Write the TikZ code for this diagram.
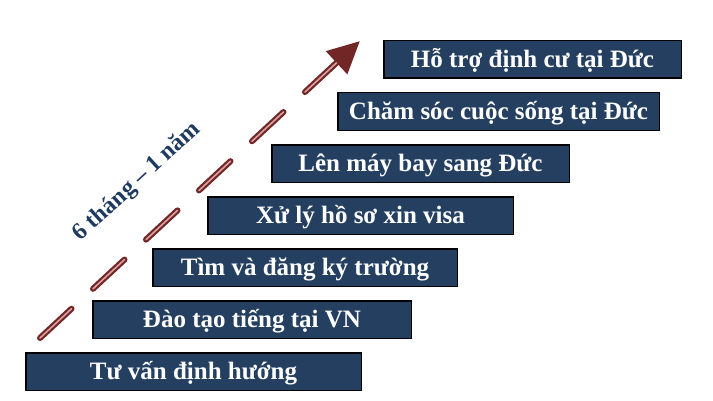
\documentclass[tikz,border=0pt]{standalone}
\usepackage{fontspec}
\setmainfont{Liberation Serif}
\usetikzlibrary{arrows.meta,positioning}
\definecolor{boxblue}{HTML}{243F60}
\definecolor{labelblue}{HTML}{1F3A60}
\definecolor{arrowred}{HTML}{722626}
\definecolor{arrowpink}{HTML}{D9A2A2}

\begin{document}
\begin{tikzpicture}[stepbox/.style={draw=black,line width=1.5pt,fill=boxblue,text=white,
    font=\fontsize{25}{30}\selectfont\bfseries,minimum height=37.5pt,inner sep=0pt,outer sep=0pt,
    text height=16.8pt,text depth=0pt},
  dashline/.style={line cap=round,dash pattern=on 43pt off 29.3pt}]
    \useasboundingbox (0,0) rectangle (713pt,400pt);

    %steps, bottom to top
    \node[stepbox,minimum width=335.5pt,anchor=south west] (s_0) at (25.75pt,9.75pt) {Tư vấn định hướng};
    \node[stepbox,minimum width=318.5pt] (s_1) [above right=14.5pt and 67pt of s_0.north west] {Đào tạo tiếng tại VN};
    \node[stepbox,minimum width=304.5pt] (s_2) [above right=14.5pt and 60pt of s_1.north west] {Tìm và đăng ký trường};
    \node[stepbox,minimum width=305.5pt] (s_3) [above right=14.5pt and 55pt of s_2.north west] {Xử lý hồ sơ xin visa};
    \node[stepbox,minimum width=297.5pt] (s_4) [above right=14.5pt and 64pt of s_3.north west] {Lên máy bay sang Đức};
    \node[stepbox,minimum width=321.5pt] (s_5) [above right=14.5pt and 66pt of s_4.north west] {Chăm sóc cuộc sống tại Đức};
    \node[stepbox,minimum width=297.5pt] (s_6) [above right=14.5pt and 46pt of s_5.north west] {Hỗ trợ định cư tại Đức};

    %time arrow
    \coordinate (a_start) at (40pt,62pt);
    \coordinate (a_end) at (360pt,359pt);
    \draw[dashline,draw=arrowred,line width=6pt,-{Triangle[length=32pt,width=30pt]}] (a_start) -- (a_end);
    \draw[dashline,draw=arrowpink,line width=1.6pt,shorten >=32pt] (a_start) -- (a_end);

    %duration
    \node[rotate=42.5,text=labelblue,font=\fontsize{24}{28}\selectfont\bfseries] (t_0) at (137pt,218pt) {6 tháng – 1 năm};
\end{tikzpicture}
\end{document}
